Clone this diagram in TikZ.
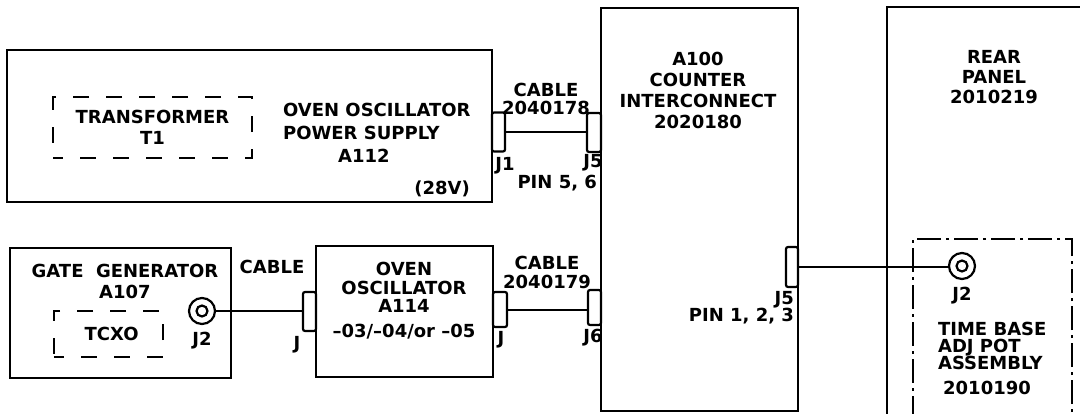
\documentclass[tikz,border=0pt]{standalone}
\usepackage{fontspec}
\setmainfont{DejaVu Sans}
\usetikzlibrary{positioning}
\newcommand\lblfont{\bfseries\fontsize{18}{21}\selectfont}

\begin{document}
\begin{tikzpicture}[
    x=1pt,y=-1pt,
    line width=2.2pt,
    unit/.style   ={draw,rectangle,outer sep=0pt,inner sep=0pt},
    subunit/.style={unit,dash pattern=on 16pt off 17pt,dash phase=6pt,font=\lblfont,align=center},
    adjbox/.style ={unit,dash pattern=on 24pt off 5pt on 3pt off 5pt},
    jack/.style   ={draw,rounded corners=2pt,outer sep=0pt,inner sep=0pt,fill=white,
                    minimum width=13pt},
    coax/.style   ={draw,circle,minimum size=26pt,inner sep=0pt,outer sep=0pt,fill=white,
                    path picture={\draw (path picture bounding box.center) circle (5.5pt);}},
    lbl/.style    ={font=\lblfont,inner sep=0pt,align=center},
    cable/.style  ={line width=2pt}
]
\useasboundingbox (0,0) rectangle (1080,413);

% power supply A112
\node[unit,minimum width=485pt,minimum height=152pt] (ps)   at (249.5,126) {};
\node[subunit,minimum width=199pt,minimum height=61pt] (xfmr) at (152.5,127.5)
    {TRANSFORMER\\T1};
\node[lbl,align=left,anchor=west] (pslbl) at (282,133)
    {OVEN OSCILLATOR\\[2pt]POWER SUPPLY\\[2pt]\hspace*{55pt}A112};
\node[lbl] (v28) at (442,189) {(28V)};
\node[jack,minimum height=39pt,anchor=west] (j1) at (492,132) {};
\node[lbl] (j1lab) at (505,166) {J1};

% gate generator A107
\node[unit,minimum width=221pt,minimum height=130pt] (gate) at (120.5,313) {};
\node[lbl] (gatelbl) at (125,281.5) {GATE\ \ GENERATOR\\A107};
\node[subunit,minimum width=109pt,minimum height=46pt] (tcxo) at (108.5,334) {\ TCXO};
\node[coax] (j2a) at (202,311) {};
\node[lbl,below=7pt of j2a] (j2alab) {J2};
\node[lbl] (cbl0) at (272,267) {CABLE};

% oven oscillator A114
\node[unit,minimum width=177pt,minimum height=131pt] (osc) at (404.5,311.5) {};
\node[lbl] (osclbl) at (404,301)
    {OVEN\\[-2.5pt]OSCILLATOR\\[-2.5pt]A114\\[4pt]–03/–04/or –05};
\node[jack,minimum height=39pt,anchor=east] (jin)  at (316,311.5) {};
\node[lbl] (jinlab) at (297,345) {J};
\node[jack,minimum height=35pt,minimum width=14pt,anchor=west] (jout) at (493,309.5) {};
\node[lbl] (joutlab) at (501,340) {J};

% counter interconnect A100
\node[unit,minimum width=197pt,minimum height=403pt] (ctr) at (699.5,209.5) {};
\node[lbl] (ctrlbl) at (698,90) {A100\\COUNTER\\INTERCONNECT\\2020180};
\node[jack,minimum height=39pt,minimum width=14pt,anchor=east] (j5a) at (601,132.5) {};
\node[lbl] (j5alab) at (593,163) {J5};
\node[lbl,anchor=base east] (pin56) at (598,188.5) {PIN 5, 6};
\node[jack,minimum height=35pt,anchor=east] (j6) at (601,307.5) {};
\node[lbl] (j6lab) at (593,338) {J6};
\node[jack,minimum height=40pt,minimum width=12pt,anchor=east] (j5b) at (798,267) {};
\node[lbl,anchor=base east] (j5blab) at (795,304.5) {J5};
\node[lbl,anchor=base east] (pin123) at (795,321.5) {PIN 1, 2, 3};

\node[lbl] (cbl1) at (546,99)    {CABLE\\[-3pt]2040178};
\node[lbl] (cbl2) at (547,272.5) {CABLE\\[-2pt]2040179};

% rear panel
\node[unit,minimum width=213pt,minimum height=423pt] (rear) at (993.5,218.5) {};
\node[lbl] (rearlbl) at (994,77) {REAR\\[-1pt]PANEL\\[-1pt]2010219};
\node[adjbox,minimum width=159pt,minimum height=191pt] (tb) at (992.5,334.5) {};
\node[coax] (j2b) at (962,266) {};
\node[lbl,below=7pt of j2b] (j2blab) {J2};
\node[lbl,align=left,anchor=north west] (tblbl) at (937,321.5)
    {TIME BASE\\[-4pt]ADJ POT\\[-4pt]ASSEMBLY};
\node[lbl] (tbnum) at (987,388) {2010190};

% cables
\draw[cable] (j1.east)   -- (j1.east -| j5a.west);
\draw[cable] (j2a.east)  -- (j2a.east -| jin.west);
\draw[cable] (jout.east) -- (jout.east -| j6.west);
\draw[cable] (j5b.east)  -- (j5b.east -| j2b.west);

\end{tikzpicture}
\end{document}
